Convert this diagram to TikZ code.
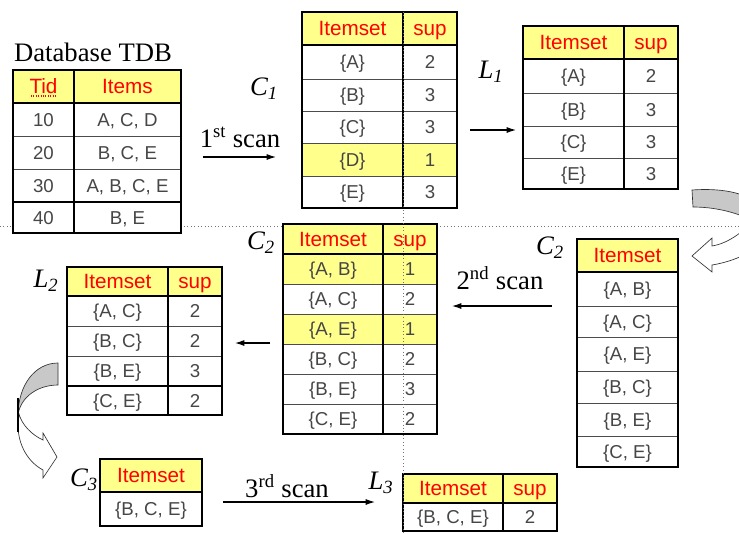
\documentclass[tikz,border=0pt]{standalone}
\usepackage{fontspec}
\setmainfont{Liberation Serif}
\newfontfamily\cellfont{Liberation Sans}
\usepackage{tikz}
\usetikzlibrary{arrows.meta}
\definecolor{hiyellow}{RGB}{255,255,140}
\definecolor{hired}{RGB}{255,0,0}
\definecolor{cellgray}{RGB}{70,70,70}
\definecolor{bandgray}{RGB}{200,200,200}

\begin{document}
\begin{tikzpicture}[x=0.75pt,y=0.75pt,yscale=-1,xscale=1,
  head/.style={inner sep=0pt,text height=11pt,text depth=0pt,text=hired,font=\cellfont\fontsize{15.5}{18}\selectfont},
  cell/.style={inner sep=0pt,text height=10pt,text depth=0pt,text=cellgray,font=\cellfont\fontsize{14}{16}\selectfont},
  lab/.style={inner sep=0.75pt,font=\fontsize{20}{24}\selectfont},
  setname/.style={inner sep=0.75pt,font=\itshape\fontsize{20}{24}\selectfont},
  frame/.style={line width=1.6pt},
  colline/.style={line width=1.3pt},
  rowline/.style={line width=0.7pt,draw=black!70},
  grid/.style={dotted,line width=0.6pt,draw=black!55},
  scan/.style={line width=0.8pt,-{Latex[length=7pt,width=4.5pt]}},
  band/.style={line width=0.5pt,draw=black!80}]
\useasboundingbox (0,0) rectangle (739,533);
\clip (0,0) rectangle (739,533);

%Straight Lines: grid, horizontal
\draw [grid] (0,226) -- (739,226) ;

%Curved Arrow: right
\draw [band,fill=bandgray] (692,190) .. controls (720,188) and (745,192) .. (760,205) -- (760,225) .. controls (745,215) and (720,207) .. (693,207) -- cycle ;
\draw [band,fill=white] (760,215) .. controls (745,230) and (730,243) .. (712,246) -- (712,238) -- (692,256) -- (712,272) -- (712,265) .. controls (730,262) and (750,255) .. (765,240) -- cycle ;
%Curved Arrow: left
\draw [band,fill=bandgray] (58,363) .. controls (35,363) and (18,385) .. (18,416) .. controls (19,400) and (35,385) .. (58,385) -- cycle ;
\draw [band,fill=white] (19,414) .. controls (22,425) and (32,435) .. (43,440) -- (43,433) -- (57,457) -- (43,478) -- (43,470) .. controls (28,462) and (18,445) .. (18,425) -- cycle ;
\draw [line width=1.5pt] (18,398) -- (18,432) ;

%Shape: Table TDB
\fill [white] (13,70) rectangle (181,233) ;
\fill [hiyellow] (13,70) rectangle (181,103) ;
\draw [rowline] (13,136) -- (181,136) (13,169) -- (181,169) ;
\draw [colline] (13,202) -- (181,202) (13,103) -- (181,103) (74,70) -- (74,233) ;
\draw [frame] (13,70) rectangle (181,233) ;
\draw [hired,densely dotted,line width=0.8pt] (31,96) -- (56,96) ;

%Shape: Table C1
\fill [white] (302,12) rectangle (457,208) ;
\fill [hiyellow] (302,12) rectangle (457,45) ;
\fill [hiyellow] (302,143) rectangle (457,176) ;
\draw [rowline] (302,79) -- (457,79) (302,111) -- (457,111) (302,143) -- (457,143) (302,176) -- (457,176) ;
\draw [colline] (302,45) -- (457,45) (403,12) -- (403,208) ;
\draw [frame] (302,12) rectangle (457,208) ;

%Shape: Table L1
\fill [white] (523,26) rectangle (678,189) ;
\fill [hiyellow] (523,26) rectangle (678,59) ;
\draw [rowline] (523,93) -- (678,93) (523,126) -- (678,126) (523,158) -- (678,158) ;
\draw [colline] (523,59) -- (678,59) (624,26) -- (624,189) ;
\draw [frame] (523,26) rectangle (678,189) ;

%Shape: Table C2 (candidates)
\fill [white] (577,239) rectangle (678,467) ;
\fill [hiyellow] (577,239) rectangle (678,272) ;
\draw [rowline] (577,306) -- (678,306) (577,337) -- (678,337) (577,371) -- (678,371) (577,403) -- (678,403) (577,436) -- (678,436) ;
\draw [colline] (577,272) -- (678,272) ;
\draw [frame] (577,239) rectangle (678,467) ;

%Shape: Table C2 (counted)
\fill [white] (283,224) rectangle (437,434) ;
\fill [hiyellow] (283,224) rectangle (437,254) ;
\fill [hiyellow] (283,254) rectangle (437,284) ;
\fill [hiyellow] (283,314) rectangle (437,344) ;
\draw [rowline] (283,284) -- (437,284) (283,314) -- (437,314) (283,344) -- (437,344) (283,374) -- (437,374) (283,404) -- (437,404) ;
\draw [colline] (283,254) -- (437,254) (383,224) -- (383,434) ;
\draw [frame] (283,224) rectangle (437,434) ;

%Shape: Table L2
\fill [white] (67,267) rectangle (222,415) ;
\fill [hiyellow] (67,267) rectangle (222,296) ;
\draw [rowline] (67,326) -- (222,326) (67,356) -- (222,356) ;
\draw [colline] (67,296) -- (222,296) (67,386) -- (222,386) (168,267) -- (168,415) ;
\draw [frame] (67,267) rectangle (222,415) ;

%Shape: Table C3
\fill [white] (100,459) rectangle (202,526) ;
\fill [hiyellow] (100,459) rectangle (202,492) ;
\draw [colline] (100,492) -- (202,492) ;
\draw [frame] (100,459) rectangle (202,526) ;

%Shape: Table L3
\fill [white] (403,474) rectangle (557,531) ;
\fill [hiyellow] (403,474) rectangle (557,503) ;
\draw [colline] (403,503) -- (557,503) (503,474) -- (503,531) ;
\draw [frame] (403,474) rectangle (557,531) ;

%Straight Lines: grid, vertical
\draw [grid] (403,12) -- (403,533) ;

% Text Node: TDB
\node [lab] (tdbname) at (93,52) {Database TDB};
\node [head] (tdbtid) at (43.5,86.5) {Tid};
\node [head] (tdbitems) at (127.5,86.5) {Items};
\node [cell] (tdbt1) at (43.5,119.5) {10};
\node [cell] (tdbi1) at (127.5,119.5) {A, C, D};
\node [cell] (tdbt2) at (43.5,152.5) {20};
\node [cell] (tdbi2) at (127.5,152.5) {B, C, E};
\node [cell] (tdbt3) at (43.5,185.5) {30};
\node [cell] (tdbi3) at (127.5,185.5) {A, B, C, E};
\node [cell] (tdbt4) at (43.5,217.5) {40};
\node [cell] (tdbi4) at (127.5,217.5) {B, E};

% Text Node: C1
\node [setname] (cone) at (264,89) {C\textsubscript{1}};
\node [head] (conehi) at (352.5,28.5) {Itemset};
\node [head] (conehs) at (430,28.5) {sup};
\node [cell] (conea) at (352.5,62) {\{A\}};
\node [cell] (conesa) at (430,62) {2};
\node [cell] (coneb) at (352.5,95) {\{B\}};
\node [cell] (conesb) at (430,95) {3};
\node [cell] (conec) at (352.5,127) {\{C\}};
\node [cell] (conesc) at (430,127) {3};
\node [cell] (coned) at (352.5,159.5) {\{D\}};
\node [cell] (conesd) at (430,159.5) {1};
\node [cell] (conee) at (352.5,192) {\{E\}};
\node [cell] (conese) at (430,192) {3};

% Text Node: L1
\node [setname] (lone) at (491,72) {L\textsubscript{1}};
\node [head] (lonehi) at (573.5,42.5) {Itemset};
\node [head] (lonehs) at (651,42.5) {sup};
\node [cell] (lonea) at (573.5,76) {\{A\}};
\node [cell] (lonesa) at (651,76) {2};
\node [cell] (loneb) at (573.5,109.5) {\{B\}};
\node [cell] (lonesb) at (651,109.5) {3};
\node [cell] (lonec) at (573.5,142) {\{C\}};
\node [cell] (lonesc) at (651,142) {3};
\node [cell] (lonee) at (573.5,173.5) {\{E\}};
\node [cell] (lonese) at (651,173.5) {3};

% Text Node: C2 (candidates)
\node [setname] (ctwo) at (550,248) {C\textsubscript{2}};
\node [head] (ctwohi) at (627.5,255.5) {Itemset};
\node [cell] (ctwoab) at (627.5,289) {\{A, B\}};
\node [cell] (ctwoac) at (627.5,321.5) {\{A, C\}};
\node [cell] (ctwoae) at (627.5,354) {\{A, E\}};
\node [cell] (ctwobc) at (627.5,387) {\{B, C\}};
\node [cell] (ctwobe) at (627.5,419.5) {\{B, E\}};
\node [cell] (ctwoce) at (627.5,451.5) {\{C, E\}};

% Text Node: C2 (counted)
\node [setname] (ctwoc) at (261,243) {C\textsubscript{2}};
\node [head] (ctwochi) at (333,239) {Itemset};
\node [head] (ctwochs) at (410,239) {sup};
\node [cell] (ctwocab) at (333,269) {\{A, B\}};
\node [cell] (ctwocsab) at (410,269) {1};
\node [cell] (ctwocac) at (333,299) {\{A, C\}};
\node [cell] (ctwocsac) at (410,299) {2};
\node [cell] (ctwocae) at (333,329) {\{A, E\}};
\node [cell] (ctwocsae) at (410,329) {1};
\node [cell] (ctwocbc) at (333,359) {\{B, C\}};
\node [cell] (ctwocsbc) at (410,359) {2};
\node [cell] (ctwocbe) at (333,389) {\{B, E\}};
\node [cell] (ctwocsbe) at (410,389) {3};
\node [cell] (ctwocce) at (333,419) {\{C, E\}};
\node [cell] (ctwocsce) at (410,419) {2};

% Text Node: L2
\node [setname] (ltwo) at (46,281) {L\textsubscript{2}};
\node [head] (ltwohi) at (117.5,281.5) {Itemset};
\node [head] (ltwohs) at (195,281.5) {sup};
\node [cell] (ltwoac) at (117.5,311) {\{A, C\}};
\node [cell] (ltwosac) at (195,311) {2};
\node [cell] (ltwobc) at (117.5,341) {\{B, C\}};
\node [cell] (ltwosbc) at (195,341) {2};
\node [cell] (ltwobe) at (117.5,371) {\{B, E\}};
\node [cell] (ltwosbe) at (195,371) {3};
\node [cell] (ltwoce) at (117.5,400.5) {\{C, E\}};
\node [cell] (ltwosce) at (195,400.5) {2};

% Text Node: C3
\node [setname] (cthree) at (84,480) {C\textsubscript{3}};
\node [head] (cthreehi) at (151,475.5) {Itemset};
\node [cell] (cthreebce) at (151,509) {\{B, C, E\}};

% Text Node: L3
\node [setname] (lthree) at (381,483) {L\textsubscript{3}};
\node [head] (lthreehi) at (453,488.5) {Itemset};
\node [head] (lthreehs) at (530,488.5) {sup};
\node [cell] (lthreebce) at (453,517) {\{B, C, E\}};
\node [cell] (lthreesbce) at (530,517) {2};

% Text Node: scans
\node [lab] (scanone) at (240,137) {1\textsuperscript{st} scan};
\node [lab] (scantwo) at (500,278) {2\textsuperscript{nd} scan};
\node [lab] (scanthree) at (287,486) {3\textsuperscript{rd} scan};

%Straight Lines: arrows
\coordinate (sonea) at (203,157) ;
\coordinate (soneb) at (276,157) ;
\coordinate (prunea) at (470,130) ;
\coordinate (pruneb) at (516,130) ;
\coordinate (stwoa) at (552,306) ;
\coordinate (stwob) at (452,306) ;
\coordinate (pruneta) at (270,343) ;
\coordinate (prunetb) at (235,343) ;
\coordinate (sthreea) at (223,502) ;
\coordinate (sthreeb) at (375,502) ;
\draw [scan] (sonea) -- (soneb) ;
\draw [scan] (prunea) -- (pruneb) ;
\draw [scan] (stwoa) -- (stwob) ;
\draw [scan] (pruneta) -- (prunetb) ;
\draw [scan] (sthreea) -- (sthreeb) ;

\end{tikzpicture}
\end{document}
